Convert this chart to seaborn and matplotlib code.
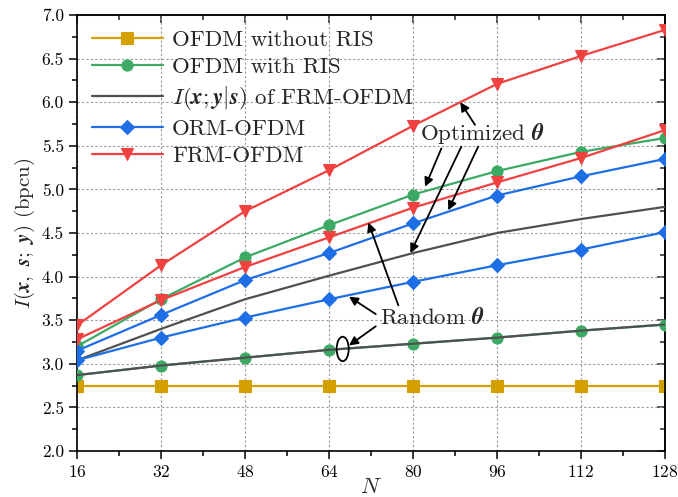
import matplotlib
matplotlib.use("Agg")
import matplotlib.pyplot as plt
from matplotlib.patches import Ellipse
from matplotlib.ticker import MultipleLocator
import seaborn as sns
import numpy as np

# ---------------- data ----------------
N = [16, 32, 48, 64, 80, 96, 112, 128]
ofdm_no_ris = [2.75, 2.75, 2.75, 2.75, 2.75, 2.75, 2.75, 2.75]
ofdm_ris_opt = [3.20, 3.74, 4.22, 4.59, 4.94, 5.21, 5.43, 5.59]
ofdm_ris_rand = [2.87, 2.98, 3.07, 3.16, 3.23, 3.30, 3.38, 3.45]
ixys_opt = [3.04, 3.40, 3.74, 4.01, 4.27, 4.50, 4.66, 4.80]
ixys_rand = [2.87, 2.98, 3.07, 3.16, 3.23, 3.30, 3.38, 3.45]
orm_opt = [3.15, 3.56, 3.96, 4.27, 4.61, 4.93, 5.15, 5.35]
orm_rand = [3.04, 3.30, 3.53, 3.74, 3.94, 4.13, 4.31, 4.51]
frm_opt = [3.44, 4.13, 4.75, 5.22, 5.73, 6.21, 6.53, 6.83]
frm_rand = [3.28, 3.73, 4.11, 4.45, 4.79, 5.08, 5.36, 5.68]

labels = ["OFDM without RIS", "OFDM with RIS",
          r"$I(\mathbfit{x};\mathbfit{y}|\mathbfit{s})$ of FRM-OFDM",
          "ORM-OFDM", "FRM-OFDM"]

sns.set_theme(style="ticks")
plt.rcParams["font.family"] = ["cmr10", "DejaVu Serif"]
plt.rcParams["mathtext.fontset"] = "cm"
plt.rcParams["axes.formatter.use_mathtext"] = True
plt.rcParams["axes.unicode_minus"] = False

c_yel = "#D4A000"
c_grn = "#3CAA64"
c_gry = "#505050"
c_blu = "#1E6EE6"
c_red = "#F04141"

fig = plt.figure(figsize=(6.78, 4.97), dpi=100)
ax = fig.add_axes([0.1136, 0.0926, 0.8673, 0.8772])

lw = 1.6
ms = 8
series = [
    (ofdm_no_ris, c_yel, "s", labels[0], 2),
    (ofdm_ris_opt, c_grn, "o", labels[1], 3),
    (ixys_opt, c_gry, None, labels[2], 3),
    (orm_opt, c_blu, "D", labels[3], 3),
    (frm_opt, c_red, "v", labels[4], 3),
    (ofdm_ris_rand, c_grn, "o", None, 3),
    (ixys_rand, c_gry, None, None, 4),
    (orm_rand, c_blu, "D", None, 3),
    (frm_rand, c_red, "v", None, 3),
]
for vals, col, mk, lab, z in series:
    kw = dict(x=N, y=vals, ax=ax, color=col, linewidth=lw, zorder=z)
    if mk is not None:
        kw.update(marker=mk, markersize=ms if mk != "D" else 7.5,
                  markeredgecolor=col, markeredgewidth=0.8)
    if lab is not None:
        kw["label"] = lab
    else:
        kw["legend"] = False
    sns.lineplot(**kw)

ax.set_xlim(16, 128)
ax.set_ylim(2.0, 7.0)
ax.xaxis.set_major_locator(MultipleLocator(16))
ax.xaxis.set_minor_locator(MultipleLocator(8))
ax.yaxis.set_major_locator(MultipleLocator(0.5))
ax.yaxis.set_minor_locator(MultipleLocator(0.25))
ax.yaxis.set_major_formatter(matplotlib.ticker.FormatStrFormatter("%.1f"))
ax.grid(True, which="major", linestyle=(0, (2, 2)), color="#999999", linewidth=0.8)

ax.tick_params(axis="both", which="both", labelsize=12.5, colors="black")
ax.tick_params(axis="x", which="major", direction="out", length=6, width=1.1, bottom=True, top=False)
ax.tick_params(axis="x", which="minor", direction="out", length=3.5, width=1.1, bottom=True, top=False)
ax.tick_params(axis="y", which="major", direction="out", length=6, width=1.1, left=True, right=False)
ax.tick_params(axis="y", which="minor", direction="out", length=3.5, width=1.1, left=True, right=False)
# mirrored inward ticks on top/right
axt = ax.secondary_xaxis("top")
axt.xaxis.set_major_locator(MultipleLocator(16))
axt.xaxis.set_minor_locator(MultipleLocator(8))
axt.tick_params(which="major", direction="in", length=6, width=1.1, labeltop=False)
axt.tick_params(which="minor", direction="in", length=3.5, width=1.1, labeltop=False)
axr = ax.secondary_yaxis("right")
axr.yaxis.set_major_locator(MultipleLocator(0.5))
axr.yaxis.set_minor_locator(MultipleLocator(0.25))
axr.tick_params(which="major", direction="in", length=6, width=1.1, labelright=False)
axr.tick_params(which="minor", direction="in", length=3.5, width=1.1, labelright=False)

for sp in ax.spines.values():
    sp.set_visible(True)
    sp.set_color("black")
    sp.set_linewidth(1.2)

ax.set_xlabel(r"$N$", fontsize=16, labelpad=-2)
ax.set_ylabel(r"$I(\mathbfit{x},\ \mathbfit{s};\ \mathbfit{y})$ (bpcu)", fontsize=15, labelpad=3)

leg = ax.legend(loc="upper left", frameon=False, fontsize=16.5, handlelength=3.1,
                handletextpad=0.4, labelspacing=0.3, borderaxespad=0.35,
                borderpad=0.3, bbox_to_anchor=(0.0, 1.0))

# annotations
arrow = dict(arrowstyle="-|>", color="black", lw=1.3, mutation_scale=13,
             shrinkA=0, shrinkB=0)
ax.text(93.3, 5.64, r"Optimized $\mathbfit{\theta}$", fontsize=16.5, ha="center", va="center")
for tail, head in [((91.8, 5.74), (89.0, 6.00)),
                   ((85.4, 5.47), (82.3, 5.03)),
                   ((89.2, 5.49), (79.5, 4.27)),
                   ((92.4, 5.49), (86.7, 4.76))]:
    ax.annotate("", xy=head, xytext=tail, arrowprops=arrow, zorder=6)

ax.text(83.8, 3.53, r"Random $\mathbfit{\theta}$", fontsize=16.5, ha="center", va="center")
for tail, head in [((77.2, 3.67), (71.5, 4.62)),
                   ((72.9, 3.57), (67.8, 3.77)),
                   ((72.9, 3.43), (67.8, 3.21))]:
    ax.annotate("", xy=head, xytext=tail, arrowprops=arrow, zorder=6)
ax.add_patch(Ellipse((66.6, 3.17), width=2.3, height=0.28, fill=False,
                     edgecolor="black", lw=1.3, zorder=6))

fig.savefig("out.png", dpi=100)
